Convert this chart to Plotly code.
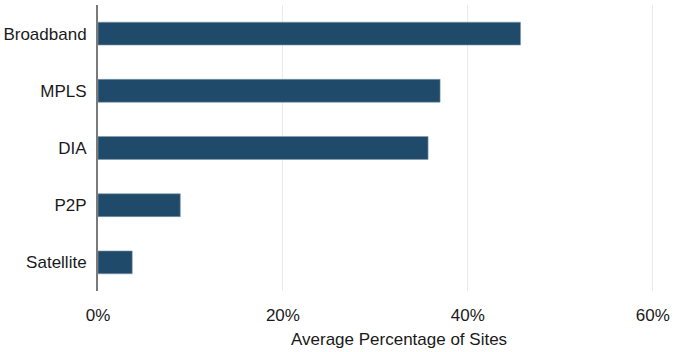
import plotly.graph_objects as go

categories = ["Broadband", "MPLS", "DIA", "P2P", "Satellite"]
values = [0.457, 0.370, 0.357, 0.089, 0.037]
tick_vals = [0, 0.2, 0.4, 0.6]
tick_text = ["0%", "20%", "40%", "60%"]
x_title = "Average Percentage of Sites"

fig = go.Figure(go.Bar(
    y=categories, x=values, orientation="h", width=0.4,
    marker=dict(color="#1f4a69", line=dict(color="#7f9cb2", width=0.6)),
))

fig.update_layout(
    width=675, height=352,
    margin=dict(l=98, r=13, t=5, b=61),
    plot_bgcolor="white", paper_bgcolor="white",
    font=dict(family="Liberation Sans, Arial, sans-serif", size=17, color="#1a1a1a"),
    showlegend=False,
    bargap=0.6,
)
fig.update_xaxes(
    range=[0, 0.61], tickvals=tick_vals, ticktext=tick_text,
    showgrid=True, gridcolor="#ebebeb", gridwidth=1.2, zeroline=False,
    ticks="", ticklabelstandoff=12, automargin=False,
)
fig.update_yaxes(
    categoryorder="array", categoryarray=categories[::-1],
    range=[-0.5, 4.5], showgrid=False, zeroline=False,
    showline=True, linecolor="#7a7a7a", linewidth=2,
    ticks="", ticklabelstandoff=6, automargin=False,
)
fig.add_annotation(
    text=x_title, xref="paper", yref="paper",
    x=(398.5 - 98) / (675 - 98 - 13), y=0, xanchor="center", yanchor="top",
    yshift=-37, showarrow=False, font=dict(size=17),
)

fig.write_html("out.html")
